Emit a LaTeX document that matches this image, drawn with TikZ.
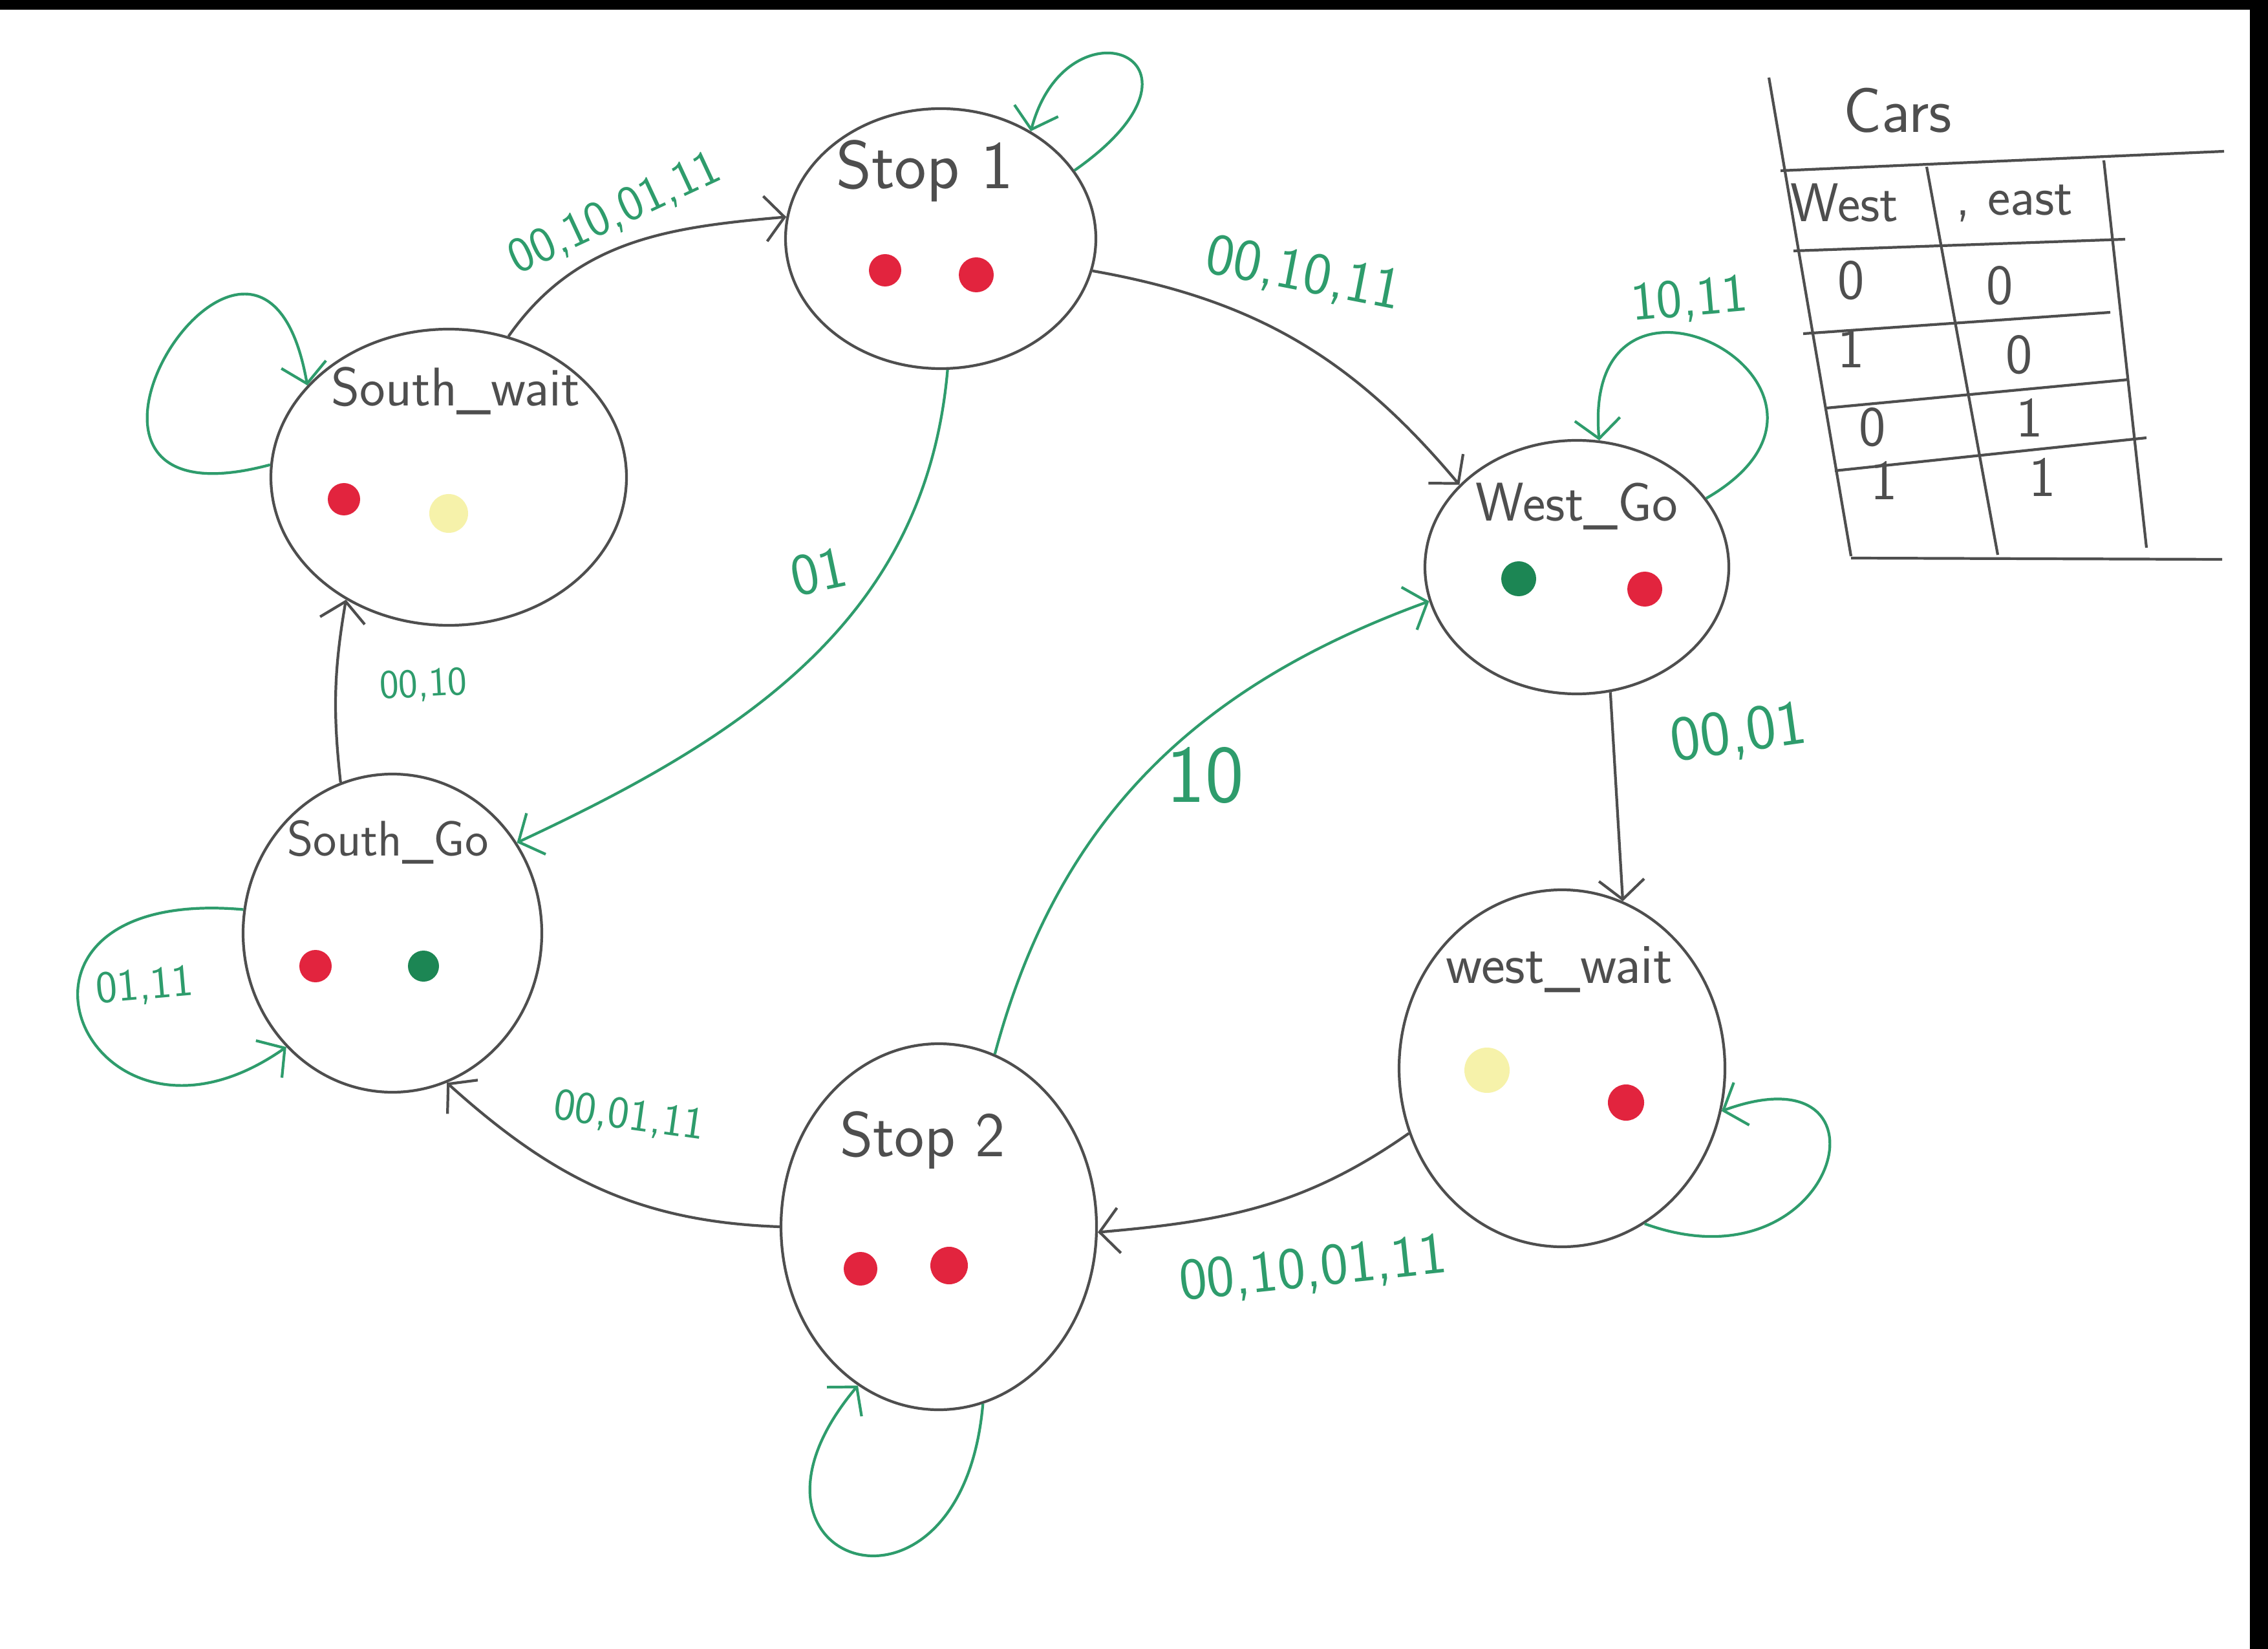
\documentclass[tikz,border=0pt]{standalone}
\usepackage{fontspec}
\usetikzlibrary{shapes.geometric,arrows.meta}

\definecolor{ink}{RGB}{78,78,78}
\definecolor{marker}{RGB}{46,156,108}
\definecolor{lampred}{RGB}{226,36,62}
\definecolor{lampyellow}{RGB}{246,242,170}
\definecolor{lampgreen}{RGB}{28,134,84}

\tikzset{
  fsmstate/.style = {ellipse, draw = ink, line width = 1.2pt, inner sep = 0pt},
  statename/.style = {text = ink, font = \sffamily\fontsize{24}{28}\selectfont},
  cond/.style = {text = marker, font = \sffamily\fontsize{20}{24}\selectfont},
  trans/.style = {draw = ink, line width = 1.2pt, -{Straight Barb[length = 3mm, width = 7mm]}},
  hold/.style = {draw = marker, line width = 1.2pt, -{Straight Barb[length = 3mm, width = 7mm]}},
  cell/.style = {text = ink, font = \sffamily\fontsize{25}{30}\selectfont}
}

\begin{document}
\begin{tikzpicture}
	\useasboundingbox (0, 0) rectangle (35.08, -25.5);
	\fill[white] (0, 0) rectangle (35.08, -25.5);
	% scan edges
	\fill[black] (0, 0) rectangle (35.08, -0.15);
	\fill[black] (34.80, 0) rectangle (35.08, -25.5);

	% states
	\node (s1) at (14.55, -3.69) [fsmstate, minimum width = 4.80cm, minimum height = 4.02cm] {};
	\node (sw) at (6.94, -7.38) [fsmstate, minimum width = 5.50cm, minimum height = 4.58cm] {};
	\node (wg) at (24.39, -8.77) [fsmstate, minimum width = 4.70cm, minimum height = 3.92cm] {};
	\node (sg) at (6.07, -14.43) [fsmstate, minimum width = 4.62cm, minimum height = 4.92cm] {};
	\node (ww) at (24.16, -16.52) [fsmstate, minimum width = 5.04cm, minimum height = 5.52cm] {};
	\node (st2) at (14.52, -18.97) [fsmstate, minimum width = 4.88cm, minimum height = 5.66cm] {};

	\node (s1name) at (14.30, -2.64) [statename, font = \sffamily\fontsize{30}{34}\selectfont] {Stop 1};
	\node (swname) at (7.05, -6.04) [statename] {South\_wait};
	\node (wgname) at (24.39, -7.83) [statename] {West\_Go};
	\node (sgname) at (6.00, -13.02) [statename, font = \sffamily\fontsize{22}{26}\selectfont] {South\_Go};
	\node (wwname) at (24.12, -14.99) [statename, font = \sffamily\fontsize{25}{30}\selectfont] {west\_wait};
	\node (st2name) at (14.27, -17.63) [statename, font = \sffamily\fontsize{28}{32}\selectfont] {Stop 2};

	% lamps
	\foreach \x/\y/\r in {13.69/-4.18/0.25, 15.10/-4.25/0.27, 5.32/-7.72/0.25, 25.44/-9.11/0.27,
			4.88/-14.94/0.25, 25.15/-17.05/0.28, 13.31/-19.62/0.26, 14.68/-19.57/0.29}
		\fill[lampred] (\x, \y) circle (\r);
	\foreach \x/\y/\r in {6.94/-7.94/0.30, 23.00/-16.55/0.35}
		\fill[lampyellow] (\x, \y) circle (\r);
	\foreach \x/\y/\r in {23.49/-8.95/0.27, 6.55/-14.94/0.24}
		\fill[lampgreen] (\x, \y) circle (\r);

	% transitions
	\draw[trans] (sw.67) to[out = 55, in = 185] (s1.172);
	\draw[trans] (s1.-12) to[out = -10, in = 130] (wg.145);
	\draw[hold] (s1.-87) to[out = -95, in = 25] (sg.36);
	\draw[trans] (wg.-75) -- (ww.70);
	\draw[trans] (ww.203) to[out = 215, in = 5] (st2.-2);
	\draw[hold] (st2.72) to[out = 75, in = 200] (wg.193);
	\draw[trans] (st2.180) to[out = 178, in = -42] (sg.-70);
	\draw[trans] (sg.109) to[bend left = 8] (sw.230);

	% self loops
	\draw[hold] (s1.27) .. controls +(35:3.0) and +(75:2.2) .. (s1.50);
	\draw[hold] (sw.176) .. controls +(195:4.4) and +(100:4.2) .. (sw.147);
	\draw[hold] (wg.28) .. controls +(30:3.4) and +(95:3.4) .. (wg.80);
	\draw[hold] (ww.-62) .. controls +(-20:3.2) and +(20:3.0) .. (ww.-15);
	\draw[hold] (st2.-76) .. controls +(-95:3.8) and +(230:3.6) .. (st2.-117);
	\draw[hold] (sg.171) .. controls +(175:4.4) and +(215:3.8) .. (sg.227);

	% conditions
	\node (c1) at (9.51, -3.31) [cond, rotate = 25, font = \sffamily\fontsize{22}{26}\selectfont] {00,10,01,11};
	\node (c2) at (20.16, -4.25) [cond, rotate = -11, font = \sffamily\fontsize{26}{30}\selectfont] {00,10,11};
	\node (c3) at (12.66, -8.84) [cond, rotate = 12, font = \sffamily\fontsize{26}{30}\selectfont] {01};
	\node (c4) at (26.13, -4.65) [cond, rotate = 5, font = \sffamily\fontsize{24}{28}\selectfont] {10,11};
	\node (c5) at (26.89, -11.36) [cond, rotate = 8, font = \sffamily\fontsize{28}{32}\selectfont] {00,01};
	\node (c6) at (18.64, -11.99) [cond, font = \sffamily\fontsize{36}{40}\selectfont] {10};
	\node (c7) at (9.73, -17.27) [cond, rotate = -8] {00,01,11};
	\node (c8) at (20.31, -19.64) [cond, rotate = 6, font = \sffamily\fontsize{26}{30}\selectfont] {00,10,01,11};
	\node (c9) at (6.55, -10.60) [cond, rotate = 3, font = \sffamily\fontsize{18}{22}\selectfont] {00,10};
	\node (c10) at (2.24, -15.26) [cond, rotate = 5] {01,11};

	% input table
	\draw[ink, line width = 1.2pt] (27.36, -1.20) -- (28.63, -8.60);
	\draw[ink, line width = 1.2pt] (29.80, -2.58) -- (30.90, -8.58);
	\draw[ink, line width = 1.2pt] (32.54, -2.48) -- (33.20, -8.47);
	\draw[ink, line width = 1.2pt] (27.54, -2.64) -- (34.40, -2.34);
	\draw[ink, line width = 1.2pt] (28.63, -8.63) -- (34.37, -8.65);
	\foreach \xa/\ya/\xb/\yb in {27.74/-3.88/32.87/-3.70, 27.89/-5.16/32.64/-4.83,
			28.25/-6.31/32.92/-5.87, 28.38/-7.28/33.20/-6.77}
		\draw[ink, line width = 1.2pt] (\xa, \ya) -- (\xb, \yb);
	\node (cars) at (29.35, -1.71) [cell, font = \sffamily\fontsize{28}{32}\selectfont] {Cars};
	\node (west) at (28.53, -3.14) [cell, font = \sffamily\fontsize{24}{28}\selectfont] {West};
	\node (east) at (31.16, -3.14) [cell, font = \sffamily\fontsize{24}{28}\selectfont] {, east};
	\foreach \x/\y/\v [count = \i] in {28.63/-4.34/0, 30.93/-4.42/0, 28.63/-5.39/1, 31.23/-5.49/0,
			28.96/-6.61/0, 31.39/-6.46/1, 29.14/-7.43/1, 31.59/-7.38/1}
		\node (cell\i) at (\x, \y) [cell] {\v};
\end{tikzpicture}
\end{document}
